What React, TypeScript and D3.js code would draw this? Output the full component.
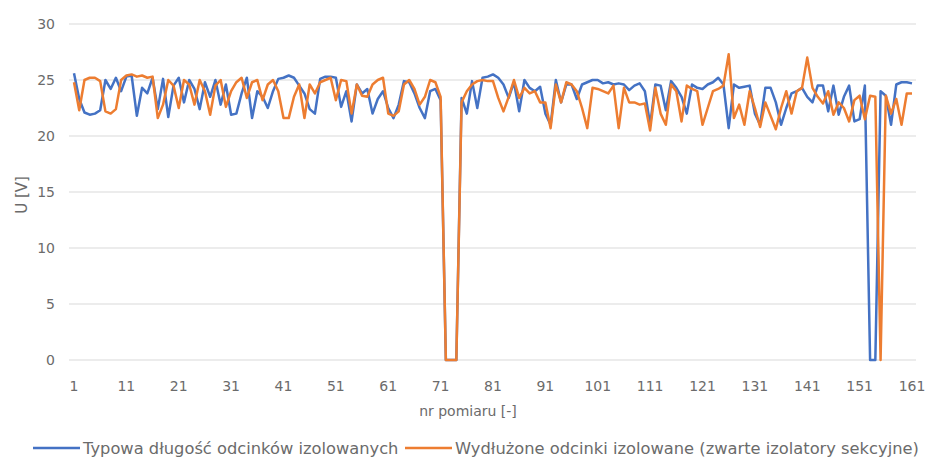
import * as d3 from "d3";

// numer pomiaru 1..161
const pomiary: number[] = d3.range(1, 162);
const tickLabels: number[] = d3.range(1, 162, 10);
const yTicks: number[] = [0, 5, 10, 15, 20, 25, 30];

const seriesNames = [
  "Typowa długość odcinków izolowanych",
  "Wydłużone odcinki izolowane (zwarte izolatory sekcyjne)",
];

const typowa: number[] = [
  25.6, 23.3, 22.1, 21.9, 22.0, 22.3, 25.0, 24.2, 25.2, 24.0,
  25.3, 25.4, 21.8, 24.3, 23.8, 25.2, 22.4, 25.1, 21.7, 24.5,
  25.2, 23.0, 25.0, 24.2, 22.4, 24.8, 23.5, 25.0, 22.8, 24.6,
  21.9, 22.0, 23.8, 25.2, 21.6, 24.0, 23.5, 22.5, 24.0, 25.1,
  25.2, 25.4, 25.2, 24.5, 23.8, 22.4, 22.0, 25.1, 25.3, 25.3,
  25.2, 22.6, 24.0, 21.3, 24.6, 23.8, 24.2, 22.0, 23.3, 24.0,
  22.5, 21.6, 22.8, 24.9, 24.8, 23.8, 22.5, 21.6, 24.0, 24.2,
  23.2, 0, 0, 0, 23.4, 22.0, 24.9, 22.5, 25.2, 25.3,
  25.5, 25.2, 24.6, 23.4, 24.8, 22.2, 25.0, 24.3, 24.0, 24.4,
  22.0, 21.0, 25.0, 23.0, 24.6, 24.6, 23.3, 24.6, 24.8, 25.0,
  25.0, 24.7, 24.8, 24.6, 24.7, 24.6, 24.1, 24.5, 24.7, 24.0,
  21.0, 24.6, 24.5, 22.3, 24.9, 24.3, 23.5, 22.0, 24.6, 24.3,
  24.2, 24.6, 24.8, 25.2, 24.6, 20.7, 24.6, 24.3, 24.4, 24.5,
  22.0, 21.0, 24.3, 24.3, 23.0, 21.0, 22.5, 23.8, 24.0, 24.3,
  23.5, 23.0, 24.5, 24.5, 22.2, 24.5, 21.9, 23.5, 24.5, 21.3,
  21.5, 24.5, 0, 0, 24.0, 23.6, 21.0, 24.6, 24.8, 24.8,
  24.7,
];

const wydluzone: number[] = [
  24.8, 22.3, 25.0, 25.2, 25.2, 24.9, 22.2, 22.0, 22.4, 25.0,
  25.4, 25.5, 25.3, 25.4, 25.2, 25.3, 21.6, 22.8, 25.0, 24.5,
  22.5, 25.0, 24.6, 22.8, 25.0, 24.0, 21.9, 24.5, 25.0, 22.6,
  24.0, 24.8, 25.2, 23.4, 24.8, 25.0, 23.2, 24.6, 25.0, 24.0,
  21.6, 21.6, 23.5, 24.6, 21.6, 24.6, 23.8, 24.8, 25.0, 25.2,
  23.2, 25.0, 24.9, 22.0, 24.6, 23.6, 23.5, 24.6, 25.0, 25.2,
  22.0, 21.8, 22.2, 24.6, 25.0, 24.2, 22.8, 23.5, 25.0, 24.8,
  23.5, 0, 0, 0, 23.0, 24.0, 24.6, 24.9, 25.0, 24.9,
  24.9, 23.4, 22.2, 23.5, 25.0, 23.4, 24.3, 23.8, 24.0, 23.0,
  23.0, 20.7, 24.6, 23.0, 24.8, 24.6, 24.0, 22.5, 20.7, 24.3,
  24.2, 24.0, 23.8, 24.5, 20.7, 24.3, 23.0, 23.0, 22.8, 22.9,
  20.5, 24.3, 22.0, 21.0, 24.6, 24.0, 21.3, 24.5, 24.2, 24.0,
  21.0, 22.5, 24.0, 24.2, 24.5, 27.3, 21.6, 22.8, 21.0, 24.0,
  22.5, 20.8, 23.0, 21.8, 20.6, 22.5, 24.0, 22.0, 24.0, 24.3,
  27.0, 24.3, 23.5, 22.9, 24.0, 21.9, 23.0, 22.5, 21.3, 23.2,
  23.6, 21.5, 23.6, 23.5, 0, 23.6, 22.0, 23.3, 21.0, 23.8,
  23.8,
];

const colors = ["#4472C4", "#ED7D31"];

const W = 931;
const H = 462;
const font = "'DejaVu Sans', sans-serif";
const textColor = "#6b6b6b";

export default function App() {
  const x = d3
    .scalePoint<number>()
    .domain(pomiary)
    .range([74, 912]);
  const y = d3.scaleLinear().domain([0, 30]).range([360, 24]);

  const line = d3
    .line<number>()
    .x((_, i) => x(pomiary[i]) as number)
    .y((d) => y(d));

  const plotLeft = 69;
  const plotRight = 916;

  return (
    <svg
      width={W}
      height={H}
      style={{ position: "absolute", left: 0, top: 0, background: "#fff" }}
      fontFamily={font}
    >
      {/* siatka */}
      {yTicks.map((t) => (
        <g key={t}>
          <line
            x1={plotLeft}
            x2={plotRight}
            y1={y(t)}
            y2={y(t)}
            stroke="#d9d9d9"
            strokeWidth={1.2}
          />
          <text
            x={55}
            y={y(t)}
            dy="0.35em"
            textAnchor="end"
            fontSize={14}
            fill={textColor}
          >
            {t}
          </text>
        </g>
      ))}

      {tickLabels.map((t) => (
        <text
          key={t}
          x={x(t)}
          y={391}
          textAnchor="middle"
          fontSize={14}
          fill={textColor}
        >
          {t}
        </text>
      ))}

      <text
        x={468}
        y={416}
        textAnchor="middle"
        fontSize={14}
        fill={textColor}
      >
        nr pomiaru [-]
      </text>
      <text
        transform={`translate(27,195) rotate(-90)`}
        textAnchor="middle"
        fontSize={15}
        fill={textColor}
      >
        U [V]
      </text>

      {/* serie */}
      {[typowa, wydluzone].map((s, i) => (
        <path
          key={i}
          d={line(s) ?? ""}
          fill="none"
          stroke={colors[i]}
          strokeWidth={2.5}
          strokeLinejoin="round"
        />
      ))}

      {/* legenda */}
      {seriesNames.map((name, i) => {
        const lx = i === 0 ? 33 : 405;
        return (
          <g key={name}>
            <line
              x1={lx}
              x2={lx + 47}
              y1={448}
              y2={448}
              stroke={colors[i]}
              strokeWidth={2.5}
            />
            <text x={lx + 50} y={454} fontSize={16.3} fill={textColor}>
              {name}
            </text>
          </g>
        );
      })}
    </svg>
  );
}
